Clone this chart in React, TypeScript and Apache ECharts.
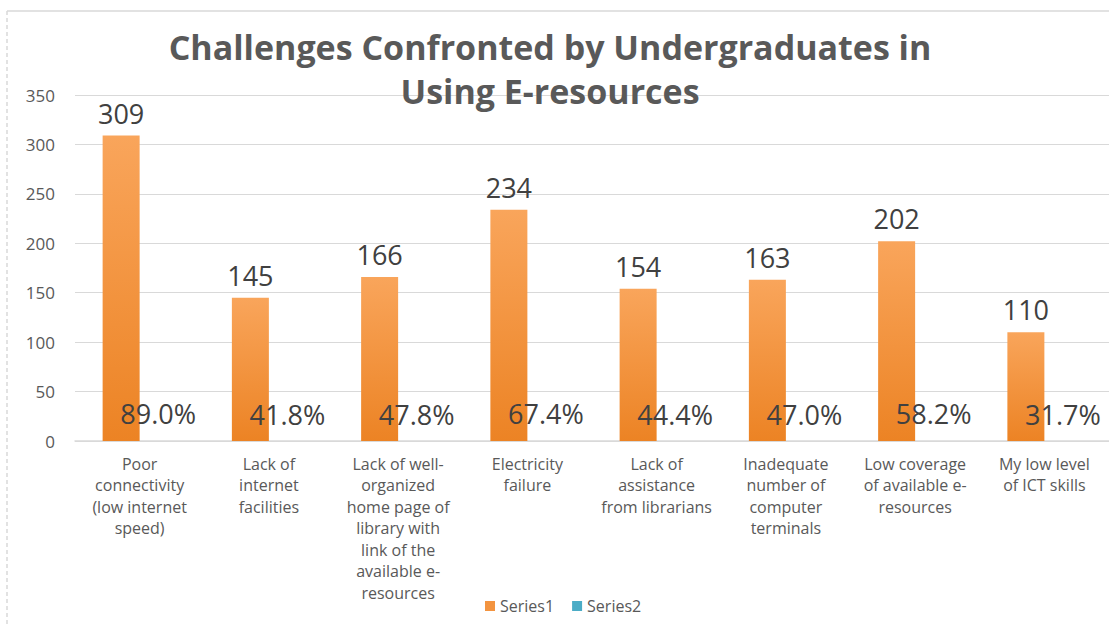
import React, { useEffect, useRef } from "react";
import * as echarts from "echarts";

const categories = [
  "Poor\nconnectivity\n(low internet\nspeed)",
  "Lack of\ninternet\nfacilities",
  "Lack of well-\norganized\nhome page of\nlibrary with\nlink of the\navailable e-\nresources",
  "Electricity\nfailure",
  "Lack of\nassistance\nfrom librarians",
  "Inadequate\nnumber of\ncomputer\nterminals",
  "Low coverage\nof available e-\nresources",
  "My low level\nof ICT skills",
];
const series1 = [309, 145, 166, 234, 154, 163, 202, 110];
const series2 = [0.89, 0.418, 0.478, 0.674, 0.444, 0.47, 0.582, 0.317];
const yTicks = { min: 0, max: 350, interval: 50 };

const FONT = "'Open Sans', sans-serif";
const GREY = "#595959";
const ORANGE = "#F39440";
const BLUE = "#4BACC6";

export default function App() {
  const ref = useRef<HTMLDivElement>(null);
  useEffect(() => {
    document.body.style.margin = "0";
    const chart = echarts.init(ref.current!, null, { renderer: "svg" });
    chart.setOption({
      animation: false,
      backgroundColor: "#ffffff",
      title: {
        text: "Challenges Confronted by Undergraduates in\nUsing E-resources",
        left: 545,
        top: 20,
        textAlign: "center",
        textStyle: {
          fontSize: 34,
          fontWeight: "bold",
          color: GREY,
          lineHeight: 44,
          fontFamily: FONT,
        },
      },
      graphic: [
        {
          type: "line",
          shape: { x1: 7, y1: 11, x2: 1109, y2: 11 },
          style: { stroke: "#d9d9d9", lineWidth: 1.5 },
          silent: true,
        },
        {
          type: "line",
          shape: { x1: 7, y1: 11, x2: 7, y2: 625 },
          style: { stroke: "#d9d9d9", lineWidth: 1.5, lineDash: [4, 3] },
          silent: true,
        },
      ],
      legend: {
        data: [
          { name: "Series1", itemStyle: { color: ORANGE } },
          { name: "Series2", itemStyle: { color: BLUE } },
        ],
        left: 480,
        top: 593,
        icon: "rect",
        itemWidth: 10,
        itemHeight: 10,
        itemGap: 18,
        textStyle: { fontSize: 16, color: GREY, fontFamily: FONT },
      },
      grid: { left: 75, right: -4, top: 95, bottom: 184, containLabel: false },
      xAxis: {
        type: "category",
        data: categories,
        axisLine: { show: true, lineStyle: { color: "#d9d9d9", width: 1.5 } },
        axisTick: { show: false },
        axisLabel: {
          interval: 0,
          fontSize: 16,
          lineHeight: 21.5,
          color: GREY,
          fontFamily: FONT,
          margin: 12,
          align: "center",
        },
      },
      yAxis: {
        type: "value",
        min: yTicks.min,
        max: yTicks.max,
        interval: yTicks.interval,
        axisLine: { show: false },
        axisTick: { show: false },
        splitLine: { lineStyle: { color: "#d9d9d9", width: 1.2 } },
        axisLabel: { fontSize: 17, color: GREY, fontFamily: FONT, margin: 20 },
      },
      series: [
        {
          name: "Series1",
          type: "bar",
          data: series1,
          barWidth: 37,
          barGap: "0%",
          itemStyle: {
            color: new echarts.graphic.LinearGradient(0, 0, 0, 1, [
              { offset: 0, color: "#F9A55B" },
              { offset: 1, color: "#EC8324" },
            ]),
          },
          label: {
            show: true,
            position: "top",
            distance: 9,
            fontSize: 27,
            color: "#404040",
            fontFamily: FONT,
          },
        },
        {
          name: "Series2",
          type: "bar",
          data: series2,
          barWidth: 37,
          itemStyle: { color: "rgba(75,172,198,0)" },
          label: {
            show: true,
            position: "top",
            distance: 13,
            fontSize: 27,
            color: "#404040",
            fontFamily: FONT,
            formatter: (p: any) => (p.value * 100).toFixed(1) + "%",
          },
          z: 3,
        },
      ],
    });
    return () => chart.dispose();
  }, []);
  return <div ref={ref} style={{ width: 1109, height: 625 }} />;
}
